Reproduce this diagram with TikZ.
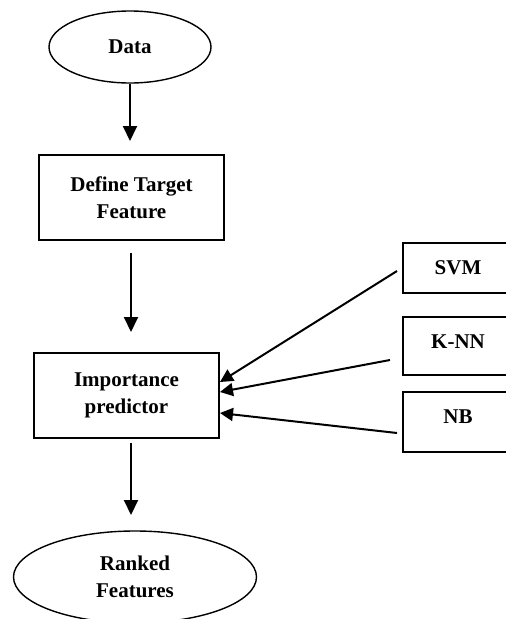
\documentclass[tikz,border=0pt]{standalone}
\usepackage{fontspec}
\setmainfont{Liberation Serif}
\usetikzlibrary{shapes.geometric,arrows.meta}
\begin{document}
\begin{tikzpicture}[x=1pt,y=-1pt,
  lbl/.style={font=\fontsize{21}{27}\selectfont\bfseries, align=center},
  oval/.style={ellipse, draw, line width=1.4pt, inner sep=0pt, lbl},
  stepbox/.style={rectangle, draw, line width=1.5pt, inner sep=0pt, lbl},
  conn/.style={line width=2pt, -{Triangle[length=15pt,width=14pt]}},
  sconn/.style={line width=2pt, -{Triangle[length=13pt,width=13pt]}}]
\useasboundingbox (0,0) rectangle (506,619);
\node[oval, minimum width=162, minimum height=72] (data) at (130,47) {Data};
\node[stepbox, minimum width=185, minimum height=85] (define) at (131.5,197.5) {Define Target\\Feature};
\node[stepbox, minimum width=185, minimum height=85] (imp) at (126.5,395.5) {Importance\\predictor};
\node[oval, minimum width=243, minimum height=92] (ranked) at (135,577) {Ranked\\Features};
\node[stepbox, minimum width=110, minimum height=50] (svm) at (458,268) {SVM};
\node[stepbox, minimum width=110, minimum height=58, text depth=8pt] (knn) at (458,346) {K-NN};
\node[stepbox, minimum width=110, minimum height=60, text depth=10pt] (nb) at (458,422) {NB};
\coordinate (d1) at (130,141);
\coordinate (s2) at (131,253);
\coordinate (d2) at (131,332);
\coordinate (s3) at (131,443);
\coordinate (d3) at (131,515);
\coordinate (sv) at (397,271);
\coordinate (kn) at (390,360);
\coordinate (nbs) at (397,433);
\coordinate (e1) at (220,382);
\coordinate (e2) at (220,392);
\coordinate (e3) at (220,413);
\draw[conn] (data.south) -- (d1);
\draw[conn] (s2) -- (d2);
\draw[conn] (s3) -- (d3);
\draw[sconn] (sv) -- (e1);
\draw[sconn] (kn) -- (e2);
\draw[sconn] (nbs) -- (e3);
\end{tikzpicture}
\end{document}
